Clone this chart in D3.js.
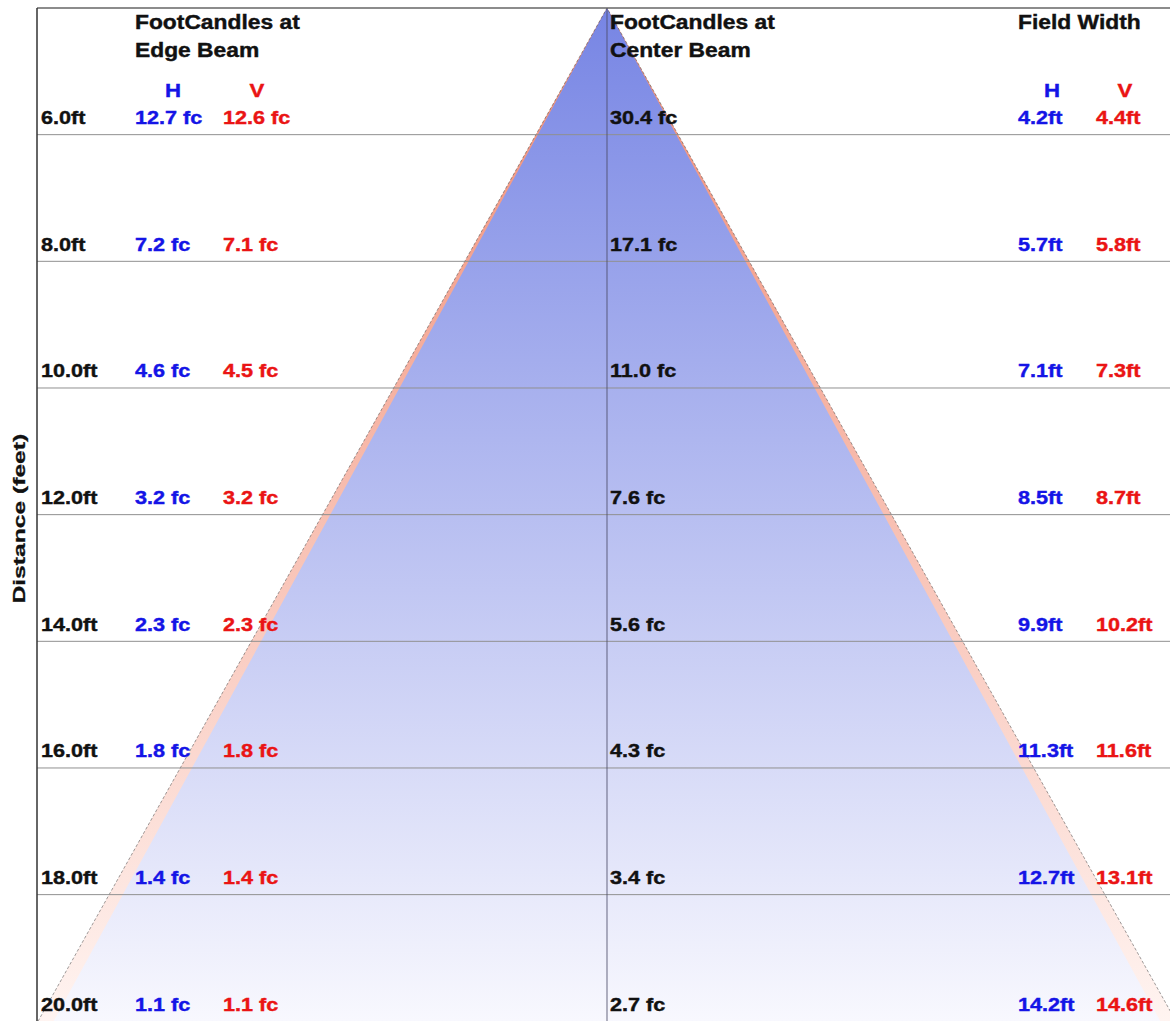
<!DOCTYPE html>
<html>
<head>
<meta charset="utf-8">
<script src="https://cdn.jsdelivr.net/npm/d3@7"></script>
<style>
  body { margin: 0; background: #fff; }
  svg { display: block; font-family: "Liberation Sans", Arial, sans-serif; font-weight: bold; }
</style>
</head>
<body>
<div id="chart"></div>
<script>
// photometric table, one entry per distance row
const distances = [6, 8, 10, 12, 14, 16, 18, 20];
const edgeH = [12.7, 7.2, 4.6, 3.2, 2.3, 1.8, 1.4, 1.1];
const edgeV = [12.6, 7.1, 4.5, 3.2, 2.3, 1.8, 1.4, 1.1];
const centerFc = [30.4, 17.1, 11.0, 7.6, 5.6, 4.3, 3.4, 2.7];
const widthH = [4.2, 5.7, 7.1, 8.5, 9.9, 11.3, 12.7, 14.2];
const widthV = [4.4, 5.8, 7.3, 8.7, 10.2, 11.6, 13.1, 14.6];

const W = 1170, H = 1021;
const plotTop = 8, plotBottom = 1021.3, plotLeft = 37, cx = 607;
const blue = "#1414e6", red = "#ea1414", ink = "#111";
const sx = 1.17; // source text looks stretched horizontally

const svg = d3.select("#chart").append("svg")
    .attr("width", W)
    .attr("height", H);

const y = d3.scaleBand().domain(distances).range([plotTop, plotBottom]).padding(0);
const maxHalf = d3.max(widthV) / 2;
const x = d3.scaleLinear().domain([-maxHalf, maxHalf]).range([cx - 569, cx + 569]);

// gradients
const defs = svg.append("defs");
function grad(id, c0, c1) {
    const g = defs.append("linearGradient").attr("id", id)
        .attr("gradientUnits", "userSpaceOnUse")
        .attr("x1", 0).attr("x2", 0).attr("y1", plotTop).attr("y2", plotBottom);
    g.append("stop").attr("offset", 0).attr("stop-color", c0);
    g.append("stop").attr("offset", 1).attr("stop-color", c1);
}
grad("gV", "#f08a72", "#fff4f1");
grad("gH", "#7785e4", "#f8f8fe");

// cones: V (wider) behind, H in front
const lastV = widthV[widthV.length - 1] / 2;
const lastH = widthH[widthH.length - 1] / 2;
const cone = half => `M${cx},${plotTop}L${x(-half)},${plotBottom}L${x(half)},${plotBottom}Z`;

svg.append("path").attr("d", cone(lastV)).attr("fill", "url(#gV)");
svg.append("path").attr("d", cone(lastH)).attr("fill", "url(#gH)");

// dashed outline on the outer edges
svg.append("path")
    .attr("d", `M${x(-lastV)},${plotBottom}L${cx},${plotTop}L${x(lastV)},${plotBottom}`)
    .attr("fill", "none")
    .attr("stroke", "#333")
    .attr("stroke-opacity", 0.6)
    .attr("stroke-width", 0.8)
    .attr("stroke-dasharray", "3,2");

// row separators
svg.append("g").selectAll("line")
    .data(distances.slice(0, -1))
    .enter().append("line")
    .attr("x1", plotLeft).attr("x2", W)
    .attr("y1", d => y(d) + y.bandwidth())
    .attr("y2", d => y(d) + y.bandwidth())
    .attr("stroke", "#909090")
    .attr("stroke-width", 1);

// center axis
svg.append("line")
    .attr("x1", cx).attr("x2", cx).attr("y1", plotTop).attr("y2", plotBottom)
    .attr("stroke", "#4a4a66").attr("stroke-opacity", 0.7).attr("stroke-width", 1.2);

// frame
svg.append("line").attr("x1", plotLeft).attr("x2", W).attr("y1", plotTop).attr("y2", plotTop)
    .attr("stroke", "#666").attr("stroke-width", 1.5);
svg.append("line").attr("x1", plotLeft).attr("x2", plotLeft).attr("y1", plotTop).attr("y2", H)
    .attr("stroke", "#333").attr("stroke-width", 1.5);

function label(px, py, txt, color, size, anchor) {
    svg.append("text")
        .attr("transform", `translate(${px},${py}) scale(${sx},1)`)
        .attr("text-anchor", anchor || "start")
        .attr("fill", color)
        .attr("stroke", color)
        .attr("stroke-width", 0.4)
        .attr("font-size", size)
        .text(txt);
}

// headers
label(135, 29, "FootCandles at", ink, 19.5);
label(135, 57, "Edge Beam", ink, 19.5);
label(610, 29, "FootCandles at", ink, 19.5);
label(610, 57, "Center Beam", ink, 19.5);
label(1018, 29, "Field Width", ink, 19.5);
label(173, 97, "H", blue, 19, "middle");
label(257, 97, "V", red, 19, "middle");
label(1052, 97, "H", blue, 19, "middle");
label(1125, 97, "V", red, 19, "middle");

// rows
const base = d => y(d) + y.bandwidth() - 10.5;
distances.forEach((d, i) => {
    label(41, base(d), d.toFixed(1) + "ft", ink, 18.5);
    label(135, base(d), edgeH[i].toFixed(1) + " fc", blue, 18.5);
    label(223, base(d), edgeV[i].toFixed(1) + " fc", red, 18.5);
    label(610, base(d), centerFc[i].toFixed(1) + " fc", ink, 18.5);
    label(1018, base(d), widthH[i].toFixed(1) + "ft", blue, 18.5);
    label(1096, base(d), widthV[i].toFixed(1) + "ft", red, 18.5);
});

// axis title
svg.append("text")
    .attr("transform", `translate(25,${(plotTop + plotBottom) / 2 + 4}) rotate(-90) scale(1.45,1)`)
    .attr("text-anchor", "middle")
    .attr("fill", ink)
    .attr("stroke", ink)
    .attr("stroke-width", 0.3)
    .attr("font-size", 17)
    .text("Distance (feet)");
</script>
</body>
</html>
